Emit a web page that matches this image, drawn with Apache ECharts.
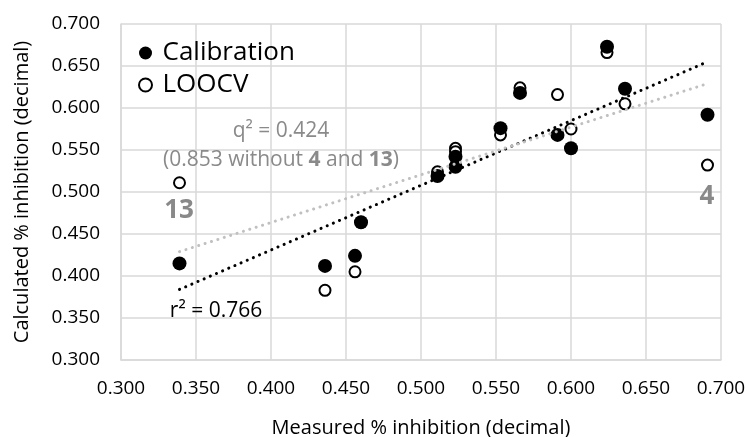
<!DOCTYPE html>
<html>
<head>
<meta charset="utf-8">
<script src="https://cdn.jsdelivr.net/npm/echarts@6/dist/echarts.min.js"></script>
<style>
html,body{margin:0;padding:0;background:#fff;}
#chart{width:750px;height:437px;}
</style>
</head>
<body>
<div id="chart"></div>
<script>
// Measured % inhibition (x) shared by both series
const measured = [0.339, 0.436, 0.456, 0.460, 0.511, 0.523, 0.523, 0.553, 0.566, 0.591, 0.600, 0.624, 0.636, 0.691];
// Calibration: calculated values
const calibration = [0.415, 0.412, 0.424, 0.464, 0.519, 0.542, 0.530, 0.576, 0.618, 0.568, 0.552, 0.673, 0.623, 0.592];
// LOOCV: calculated values
const loocv = [0.511, 0.383, 0.405, 0.464, 0.524, 0.552, 0.548, 0.568, 0.624, 0.616, 0.575, 0.666, 0.605, 0.532];
// Trendline endpoints
const calTrendX = [0.339, 0.691];
const calTrendY = [0.384, 0.655];
const looTrendX = [0.339, 0.691];
const looTrendY = [0.429, 0.629];
const axisTicks = ['0.300','0.350','0.400','0.450','0.500','0.550','0.600','0.650','0.700'];

const FONT = 'Open Sans';
const zip = (a, b) => a.map((v, i) => [v, b[i]]);

const chart = echarts.init(document.getElementById('chart'));
const axisCommon = {
  type: 'value', min: 0.3, max: 0.7, interval: 0.05,
  axisLine: { show: true, lineStyle: { color: '#d9d9d9', width: 1.5 } },
  axisTick: { show: false },
  splitLine: { show: true, lineStyle: { color: '#d9d9d9', width: 1.5 } },
  axisLabel: { color: '#000', fontFamily: FONT, fontSize: 19, formatter: v => v.toFixed(3) },
  nameLocation: 'middle',
  nameTextStyle: { color: '#000', fontFamily: FONT, fontSize: 20 }
};
chart.setOption({
  animation: false,
  backgroundColor: '#fff',
  grid: { left: 121, right: 29, top: 24, bottom: 77, containLabel: false, outerBoundsMode: 'none' },
  xAxis: Object.assign({}, axisCommon, {
    name: 'Measured % inhibition (decimal)', nameGap: 58,
    axisLabel: Object.assign({}, axisCommon.axisLabel, { margin: 19 })
  }),
  yAxis: Object.assign({}, axisCommon, {
    name: 'Calculated % inhibition (decimal)', nameGap: 89,
    axisLabel: Object.assign({}, axisCommon.axisLabel, { margin: 21 })
  }),
  legend: {
    orient: 'vertical', left: 133, top: 35, itemGap: 6,
    itemWidth: 24, itemHeight: 13,
    data: [{ name: 'Calibration', icon: 'circle' }, { name: 'LOOCV', icon: 'emptyCircle' }],
    textStyle: { color: '#000', fontFamily: FONT, fontSize: 26 }
  },
  series: [
    {
      name: 'LOOCV', type: 'scatter', symbol: 'emptyCircle', symbolSize: 11,
      itemStyle: { color: '#000', borderColor: '#000', borderWidth: 2, opacity: 1 },
      data: zip(measured, loocv), z: 2
    },
    {
      name: 'Calibration', type: 'scatter', symbol: 'circle', symbolSize: 14,
      itemStyle: { color: '#000', opacity: 1 },
      data: zip(measured, calibration), z: 3
    },
    {
      name: 'calTrend', type: 'line', symbol: 'none', silent: true,
      lineStyle: { color: '#000', width: 3, type: [0.1, 6.6], cap: 'round' },
      data: zip(calTrendX, calTrendY), z: 4
    },
    {
      name: 'looTrend', type: 'line', symbol: 'none', silent: true,
      lineStyle: { color: '#c0c0c0', width: 3, type: [0.1, 6.6], cap: 'round' },
      data: zip(looTrendX, looTrendY), z: 4
    }
  ],
  graphic: [
    { type: 'text', x: 281, y: 131, style: { text: 'q² = 0.424', fill: '#8a8a8a', font: '21px "Open Sans"', align: 'center', verticalAlign: 'middle' }, z: 10 },
    { type: 'text', x: 281, y: 160, style: { text: '(0.853 without {b|4} and {b|13})', fill: '#8a8a8a', font: '21px "Open Sans"', align: 'center', verticalAlign: 'middle',
        rich: { b: { fontWeight: 'bold', fontFamily: FONT, fontSize: 21, fill: '#8a8a8a' } } }, z: 10 },
    { type: 'text', x: 179, y: 211, style: { text: '13', fill: '#898989', font: 'bold 26px "Open Sans"', align: 'center', verticalAlign: 'middle' }, z: 10 },
    { type: 'text', x: 707, y: 197, style: { text: '4', fill: '#898989', font: 'bold 26px "Open Sans"', align: 'center', verticalAlign: 'middle' }, z: 10 },
    { type: 'text', x: 216, y: 311, style: { text: 'r² = 0.766', fill: '#000', font: '21px "Open Sans"', align: 'center', verticalAlign: 'middle' }, z: 10 }
  ]
});
</script>
</body>
</html>
